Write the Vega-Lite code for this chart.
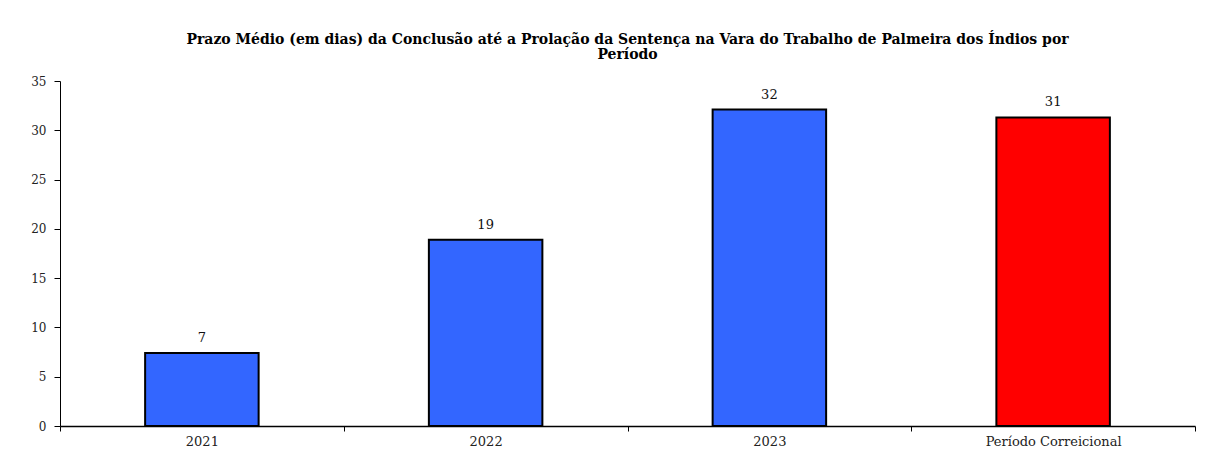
{
  "$schema": "https://vega.github.io/schema/vega-lite/v6.json",
  "autosize": "none",
  "width": 1135,
  "height": 345,
  "padding": {"left": 60, "top": 81, "right": 18, "bottom": 37},
  "background": "white",
  "title": {
    "text": ["Prazo Médio (em dias) da Conclusão até a Prolação da Sentença na Vara do Trabalho de Palmeira dos Índios por", "Período"],
    "font": "DejaVu Serif",
    "fontSize": 14,
    "fontWeight": "bold",
    "color": "#000000",
    "anchor": "middle",
    "lineHeight": 15,
    "offset": 13
  },
  "data": {
    "values": [
      {"periodo": "2021", "valor": 7.4, "tipo": "ano"},
      {"periodo": "2022", "valor": 18.9, "tipo": "ano"},
      {"periodo": "2023", "valor": 32.1, "tipo": "ano"},
      {"periodo": "Período Correicional", "valor": 31.3, "tipo": "correicional"}
    ]
  },
  "encoding": {
    "x": {
      "field": "periodo",
      "type": "nominal",
      "sort": null,
      "scale": {"paddingInner": 0, "paddingOuter": 0},
      "axis": {
        "title": null,
        "labelAngle": 0,
        "labelFont": "DejaVu Serif",
        "labelFontSize": 13,
        "labelColor": "#222222",
        "labelPadding": 4,
        "tickBand": "extent",
        "tickSize": 5,
        "tickColor": "#000000",
        "domainColor": "#000000",
        "domainWidth": 1.5,
        "grid": false
      }
    },
    "y": {
      "field": "valor",
      "type": "quantitative",
      "scale": {"domain": [0, 35], "nice": false},
      "axis": {
        "title": null,
        "values": [0, 5, 10, 15, 20, 25, 30, 35],
        "labelFont": "DejaVu Serif",
        "labelFontSize": 12,
        "labelColor": "#222222",
        "labelPadding": 8,
        "tickSize": 6,
        "tickColor": "#000000",
        "domainColor": "#000000",
        "grid": false
      }
    }
  },
  "layer": [
    {
      "mark": {"type": "bar", "width": {"band": 0.4}, "stroke": "#000000", "strokeWidth": 2},
      "encoding": {
        "color": {
          "field": "tipo",
          "type": "nominal",
          "scale": {"domain": ["ano", "correicional"], "range": ["#3366FF", "#FF0000"]},
          "legend": null
        }
      }
    },
    {
      "mark": {"type": "text", "dy": -8, "baseline": "bottom", "font": "DejaVu Serif", "fontSize": 13, "color": "#111111"},
      "encoding": {
        "text": {"field": "valor", "type": "quantitative", "format": ".0f"}
      }
    }
  ],
  "config": {
    "view": {"stroke": null}
  }
}
